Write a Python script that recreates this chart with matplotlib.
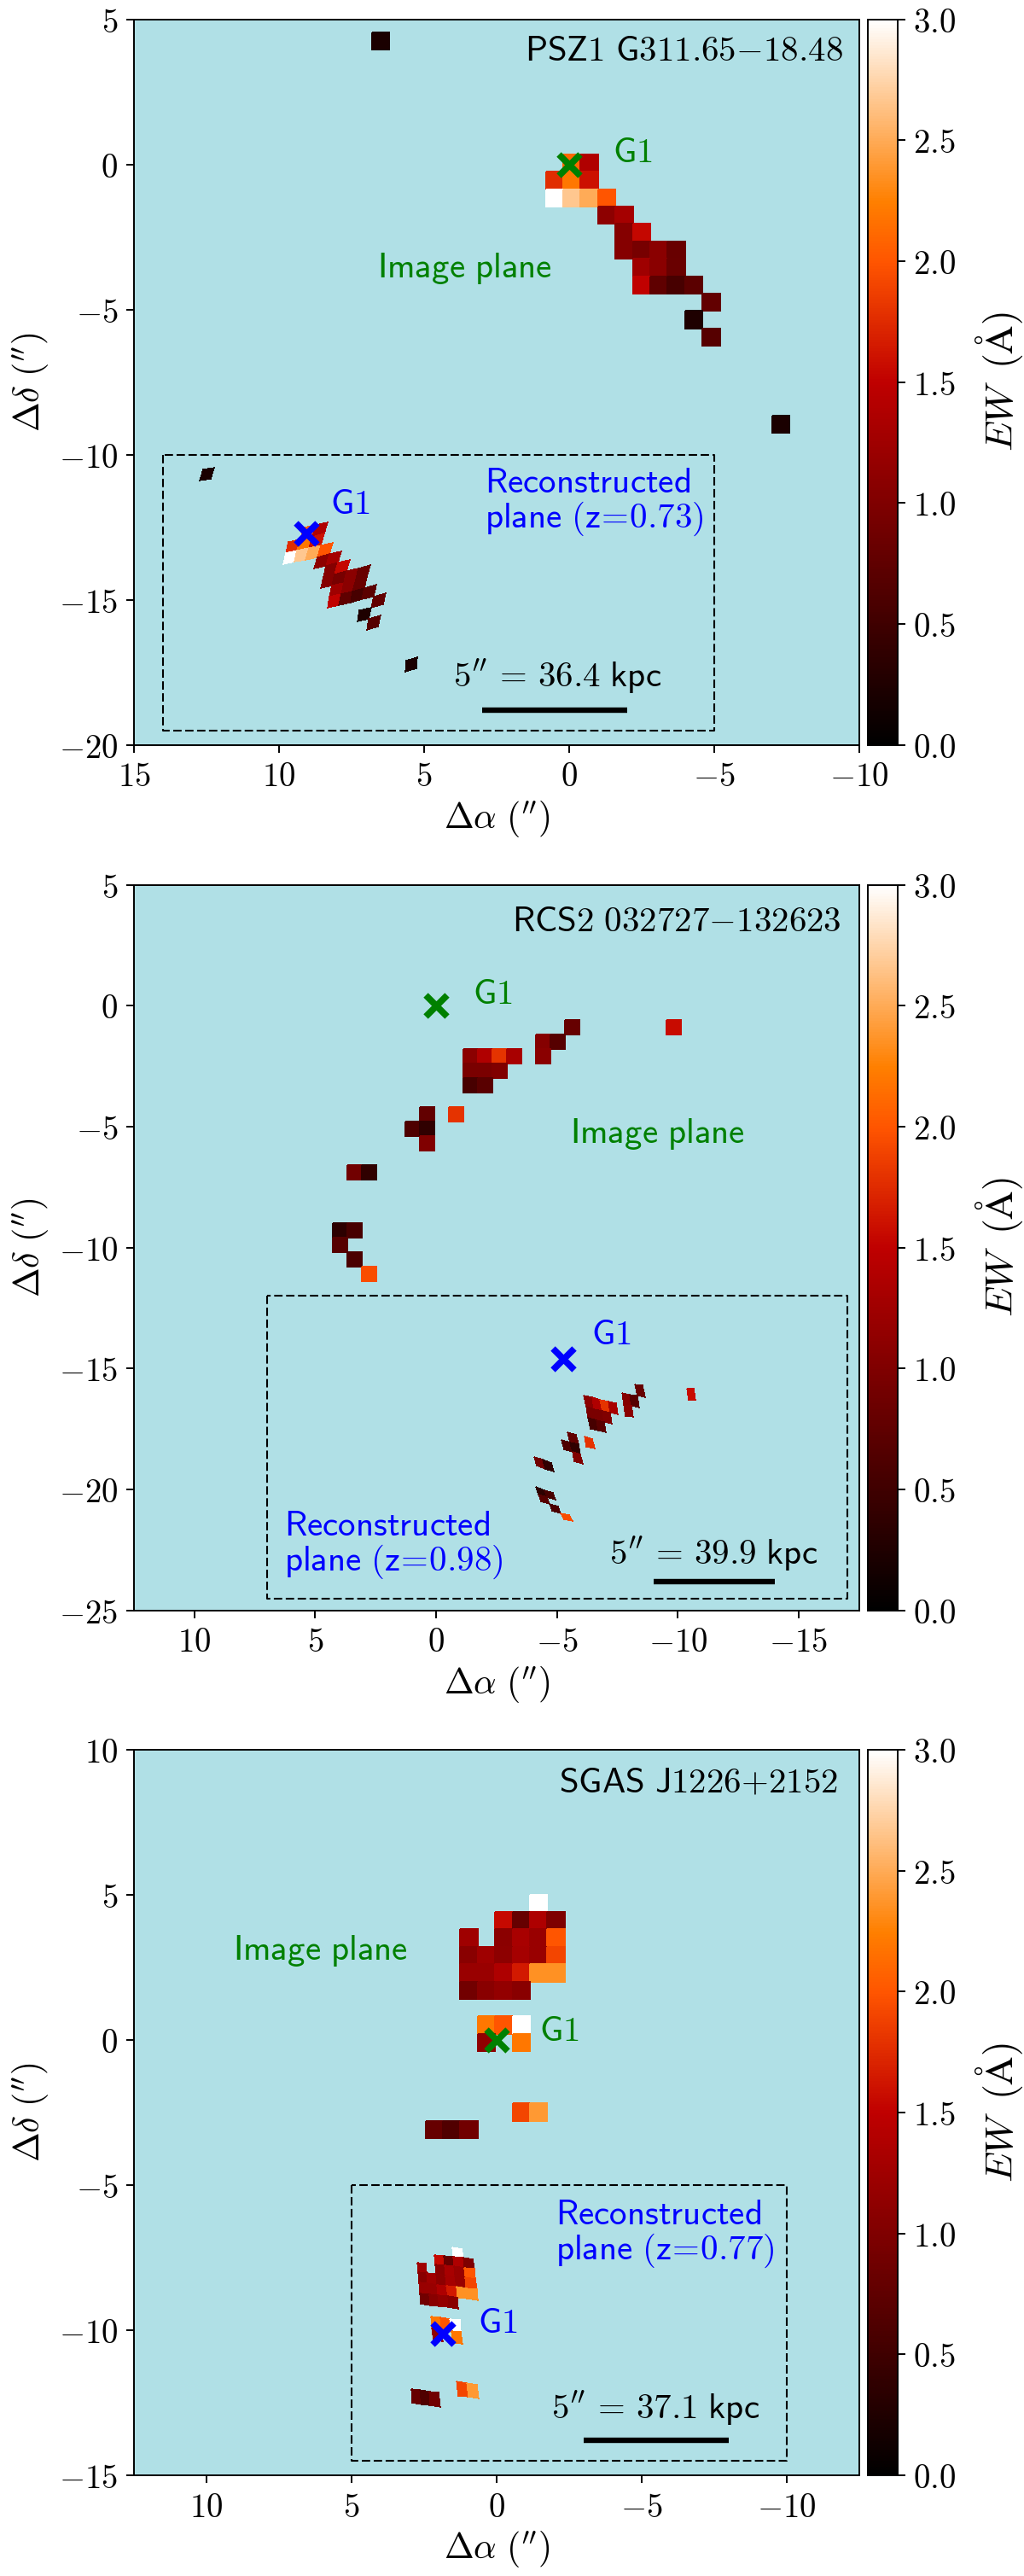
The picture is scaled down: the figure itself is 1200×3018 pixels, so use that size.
import numpy as np
import matplotlib
matplotlib.use("Agg")
import matplotlib.pyplot as plt
from matplotlib.colors import Normalize
from matplotlib.cm import ScalarMappable
from matplotlib.ticker import FuncFormatter, MultipleLocator

plt.rcParams['mathtext.fontset'] = 'cm'
plt.rcParams['font.family'] = ['DejaVu Sans']

# ---- panel 1: PSZ1 G311.65-18.48 ----
P1_COL = [1, 2, 0, 1, 2, 0, 1, 2, 3, 3, 4, 4, 5, 4, 5, 6, 7, 5, 6, 7, 5, 6, 7, 8, 9, 8, 9, -10, 13]
P1_ROW = [0, 0, 1, 1, 1, 2, 2, 2, 2, 3, 3, 4, 4, 5, 5, 5, 5, 6, 6, 6, 7, 7, 7, 7, 8, 9, 10, -7, 15]
P1_EW = [2.1, 1.38, 1.76, 2.2, 1.6, 3.0, 2.67, 2.5, 2.0, 1.11, 1.29, 1.05, 1.54, 1.05, .93, 1.08, .82,
         1.25, 1.08, .83, 1.5, .74, .56, .72, .77, .24, .67, .2, .2]
P1_CTRL_COL = [-10, 13, 0, 3, 1, 2, 3, 4, 5, 4, 7, 5, 8, 9, 8, 9]
P1_CTRL_ROW = [-7, 15, 2, 2, 1, 0, 3, 3, 4, 5, 5, 7, 7, 8, 9, 10]
P1_CTRL_RA = [12.50, 5.43, 9.57, 8.41, 9.13, 8.59, 8.52, 8.13, 7.83, 8.34, 7.12, 8.12, 6.87, 6.58, 7.07, 6.74]
P1_CTRL_DEC = [-10.66, -17.25, -13.58, -13.27, -13.11, -12.55, -13.69, -13.57, -13.86, -14.33, -14.09,
               -15.02, -14.72, -15.03, -15.49, -15.78]

# ---- panel 2: RCS2 032727-132623 ----
P2_COL = [16, 23, 14, 15, 9, 10, 11, 12, 14, 9, 10, 11, 9, 10, 6, 8, 5, 6, 6, 1, 2, 0, 1, 0, 1, 2]
P2_ROW = [0, 0, 1, 1, 2, 2, 2, 2, 2, 3, 3, 3, 4, 4, 6, 6, 7, 7, 8, 10, 10, 14, 14, 15, 16, 17]
P2_EW = [.8, 1.57, 1.05, .67, 1.1, 1.38, 1.8, 1.32, 1.08, .95, .95, 1.0, .56, .7, .77, 1.8, .62, .38,
         1.0, .88, .38, .35, .56, .67, .58, 1.95]
P2_CTRL_COL = [23, 16, 14, 14, 9, 11, 9, 10, 8, 6, 5, 6, 1, 2, 0, 1, 1, 2]
P2_CTRL_ROW = [0, 0, 1, 2, 2, 2, 4, 4, 6, 6, 7, 8, 10, 10, 14, 14, 16, 17]
P2_CTRL_RA = [-10.55, -8.45, -7.89, -7.96, -6.33, -6.99, -6.49, -6.81, -6.35, -5.66, -5.41, -5.86,
              -4.29, -4.69, -4.34, -4.72, -4.92, -5.41]
P2_CTRL_DEC = [-16.06, -15.88, -16.32, -16.76, -16.44, -16.55, -17.29, -17.41, -18.08, -17.82, -18.18,
               -18.71, -18.88, -19.06, -20.12, -20.24, -20.79, -21.15]

# ---- panel 3: SGAS J1226+2152 ----
P3_COL = [6, 4, 5, 6, 7, 2, 4, 5, 6, 7, 2, 3, 4, 5, 6, 7, 2, 3, 4, 5, 6, 7, 2, 3, 4, 5, 3, 4, 5, 3, 5, 5, 6, 0, 1, 2]
P3_ROW = [0, 1, 1, 1, 1, 2, 2, 2, 2, 2, 3, 3, 3, 3, 3, 3, 4, 4, 4, 4, 4, 4, 5, 5, 5, 5, 7, 7, 7, 8, 8, 12, 12, 13, 13, 13]
P3_EW = [3.0, 1.55, .8, 1.36, .99, 1.25, 1.1, 1.32, 1.2, 2.0, 1.07, 1.25, 1.11, 1.29, 1.2, 1.9, 1.2, 1.2,
         1.36, 1.65, 2.35, 2.35, .9, 1.07, 1.16, 1.07, 2.2, 2.0, 3.0, 1.13, 2.2, 1.9, 2.4, .8, .63, .88]
P3_CTRL_COL = [6, 4, 7, 2, 2, 5, 7, 7, 3, 5, 5, 3, 5, 6, 0, 2]
P3_CTRL_ROW = [0, 1, 1, 2, 5, 5, 4, 2, 7, 7, 8, 8, 12, 12, 13, 13]
P3_CTRL_RA = [1.33, 1.97, .97, 2.58, 2.46, 1.51, .84, .94, 2.10, 1.40, 1.35, 2.04, 1.19, .81, 2.77, 2.14]
P3_CTRL_DEC = [-7.32, -7.60, -7.68, -7.86, -8.92, -9.07, -8.76, -8.04, -9.71, -9.83, -10.27, -10.15,
               -12.01, -12.09, -12.29, -12.40]

NAMES = [r'PSZ1\ G311.65{-}18.48', r'RCS2\ 032727{-}132623', r'SGAS\ J1226{+}2152']
REDSHIFTS = ['0.73', '0.98', '0.77']
SCALES_KPC = ['36.4', '39.9', '37.1']

PANELS = [
    dict(col=P1_COL, row=P1_ROW, ew=P1_EW, cc=P1_CTRL_COL, cr=P1_CTRL_ROW, ca=P1_CTRL_RA, cd=P1_CTRL_DEC,
         grid=(0.80, 0.35), xlim=(15, -10), ylim=(-20, 5), top=22.7, h=850,
         g1_src=(9.05, -12.7), box=(14, -5, -19.5, -10), bar=(3, -2, -18.8),
         t_name=(-9.45, 3.9), t_g1=(-2.18, 0.4), t_img=(3.59, -3.57), t_g1s=(7.55, -11.7),
         t_rec=(2.91, -11.62), t_scale=(0.41, -17.65)),
    dict(col=P2_COL, row=P2_ROW, ew=P2_EW, cc=P2_CTRL_COL, cr=P2_CTRL_ROW, ca=P2_CTRL_RA, cd=P2_CTRL_DEC,
         grid=(4.27, -0.59), xlim=(12.5, -17.5), ylim=(-25, 5), top=1036.7, h=850,
         g1_src=(-5.25, -14.6), box=(7, -17, -24.5, -12), bar=(-9, -14, -23.8),
         t_name=(-16.76, 3.47), t_g1=(-2.35, 0.47), t_img=(-9.15, -5.3), t_g1s=(-7.25, -13.6),
         t_rec=(6.28, -22.3), t_scale=(-11.46, -22.65)),
    dict(col=P3_COL, row=P3_ROW, ew=P3_EW, cc=P3_CTRL_COL, cr=P3_CTRL_ROW, ca=P3_CTRL_RA, cd=P3_CTRL_DEC,
         grid=(2.45, 5.01), xlim=(12.5, -12.5), ylim=(-15, 10), top=2050, h=850,
         g1_src=(1.86, -10.13), box=(5, -10, -14.5, -5), bar=(-3, -8, -13.8),
         t_name=(-11.76, 8.83), t_g1=(-2.15, 0.3), t_img=(6.06, 3.06), t_g1s=(-0.05, -9.76),
         t_rec=(-2.03, -6.67), t_scale=(-5.49, -12.68)),
]

W, H = 1200, 3018
CELL = 0.6
LEFT, RIGHT = 157, 1006.7
CB_L, CB_R = 1017.3, 1051.7
TXT = 29.5
norm = Normalize(0, 3)
cmap = plt.get_cmap('gist_heat')

fig = plt.figure(figsize=(W / 100, H / 100), dpi=100)


def design(c, r):
    c, r = np.asarray(c, float), np.asarray(r, float)
    return np.stack([np.ones_like(c), c, r, c * c, c * r, r * r], axis=-1)


def sf(s):
    return r'$\mathsf{' + s + '}$'


for p, name, zs, kpc in zip(PANELS, NAMES, REDSHIFTS, SCALES_KPC):
    rect = [LEFT / W, 1 - (p['top'] + p['h']) / H, (RIGHT - LEFT) / W, p['h'] / H]
    ax = fig.add_axes(rect)
    ax.set_facecolor('powderblue')

    col, row = np.array(p['col']), np.array(p['row'])
    c0, r0 = col.min(), row.min()
    ncol, nrow = col.max() - c0 + 1, row.max() - r0 + 1
    Z = np.full((nrow, ncol), np.nan)
    Z[row - r0, col - c0] = p['ew']
    Z = np.ma.masked_invalid(Z)
    cn, rn = np.meshgrid(np.arange(c0, c0 + ncol + 1), np.arange(r0, r0 + nrow + 1))

    # image plane
    ax.pcolormesh(p['grid'][0] - CELL * cn, p['grid'][1] - CELL * rn, Z, cmap=cmap, norm=norm,
                  edgecolors='face', linewidth=0.15, zorder=2)

    # reconstructed plane: lens mapping of the same pixels, smooth fit to read positions
    A = design(np.array(p['cc']) + .5, np.array(p['cr']) + .5)
    ca, *_ = np.linalg.lstsq(A, np.array(p['ca']), rcond=None)
    cd, *_ = np.linalg.lstsq(A, np.array(p['cd']), rcond=None)
    N = design(cn, rn)
    ax.pcolormesh(N @ ca, N @ cd, Z, cmap=cmap, norm=norm, edgecolors='face', linewidth=0.15, zorder=2)

    # markers
    ax.plot(0, 0, 'x', color='green', ms=18, mew=5.5, zorder=5)
    ax.plot(*p['g1_src'], 'x', color='blue', ms=18, mew=5.5, zorder=5)

    # dashed box and scale bar
    x0, x1, y0, y1 = p['box']
    ax.plot([x0, x0, x1, x1, x0], [y1, y0, y0, y1, y1], color='k', lw=1.5,
            linestyle=(0, (4.7, 2.0)), zorder=4)
    ax.plot(p['bar'][:2], [p['bar'][2]] * 2, color='k', lw=4.6, solid_capstyle='butt', zorder=4)

    # texts
    ax.text(*p['t_name'], sf(name), ha='right', va='center', fontsize=TXT, color='k', zorder=6)
    ax.text(*p['t_g1'], sf('G1'), ha='center', va='center', fontsize=TXT, color='green', zorder=6)
    ax.text(*p['t_img'], sf(r'Image\ plane'), ha='center', va='center', fontsize=TXT, color='green', zorder=6)
    ax.text(*p['t_g1s'], sf('G1'), ha='center', va='center', fontsize=TXT, color='blue', zorder=6)
    ax.text(*p['t_rec'], sf('Reconstructed') + '\n' + sf(r'plane\ (z\!=\!' + zs + ')'), ha='left', va='center',
            fontsize=TXT, color='blue', linespacing=1.0, zorder=6)
    ax.text(*p['t_scale'], sf("5''\\,=\\," + kpc + r'\ kpc'), ha='center', va='center', fontsize=TXT, color='k', zorder=6)

    ax.set_xlim(p['xlim'])
    ax.set_ylim(p['ylim'])
    ax.xaxis.set_major_locator(MultipleLocator(5))
    ax.yaxis.set_major_locator(MultipleLocator(5))
    fmt = FuncFormatter(lambda v, _: '$%d$' % round(v))
    ax.xaxis.set_major_formatter(fmt)
    ax.yaxis.set_major_formatter(fmt)
    ax.tick_params(axis='both', which='major', direction='out', length=6.5, width=1.4, labelsize=28, pad=7)
    for s in ax.spines.values():
        s.set_linewidth(1.4)
    ax.set_xlabel(r"$\Delta\alpha\ ('')$", fontsize=30, labelpad=5)
    ax.set_ylabel(r"$\Delta\delta\ ('')$", fontsize=30, labelpad=6)

    cax = fig.add_axes([CB_L / W, rect[1], (CB_R - CB_L) / W, rect[3]])
    cb = fig.colorbar(ScalarMappable(norm=norm, cmap=cmap), cax=cax)
    cb.set_ticks(np.arange(0, 3.01, 0.5))
    cb.ax.yaxis.set_major_formatter(FuncFormatter(lambda v, _: '$%.1f$' % v))
    cb.ax.tick_params(length=6.5, width=1.4, labelsize=28, pad=7)
    cb.outline.set_linewidth(1.4)
    cb.set_label(r'$EW\ \,(\mathrm{\AA})$', fontsize=33, labelpad=14)

fig.savefig('out.png', dpi=100, facecolor='white')
